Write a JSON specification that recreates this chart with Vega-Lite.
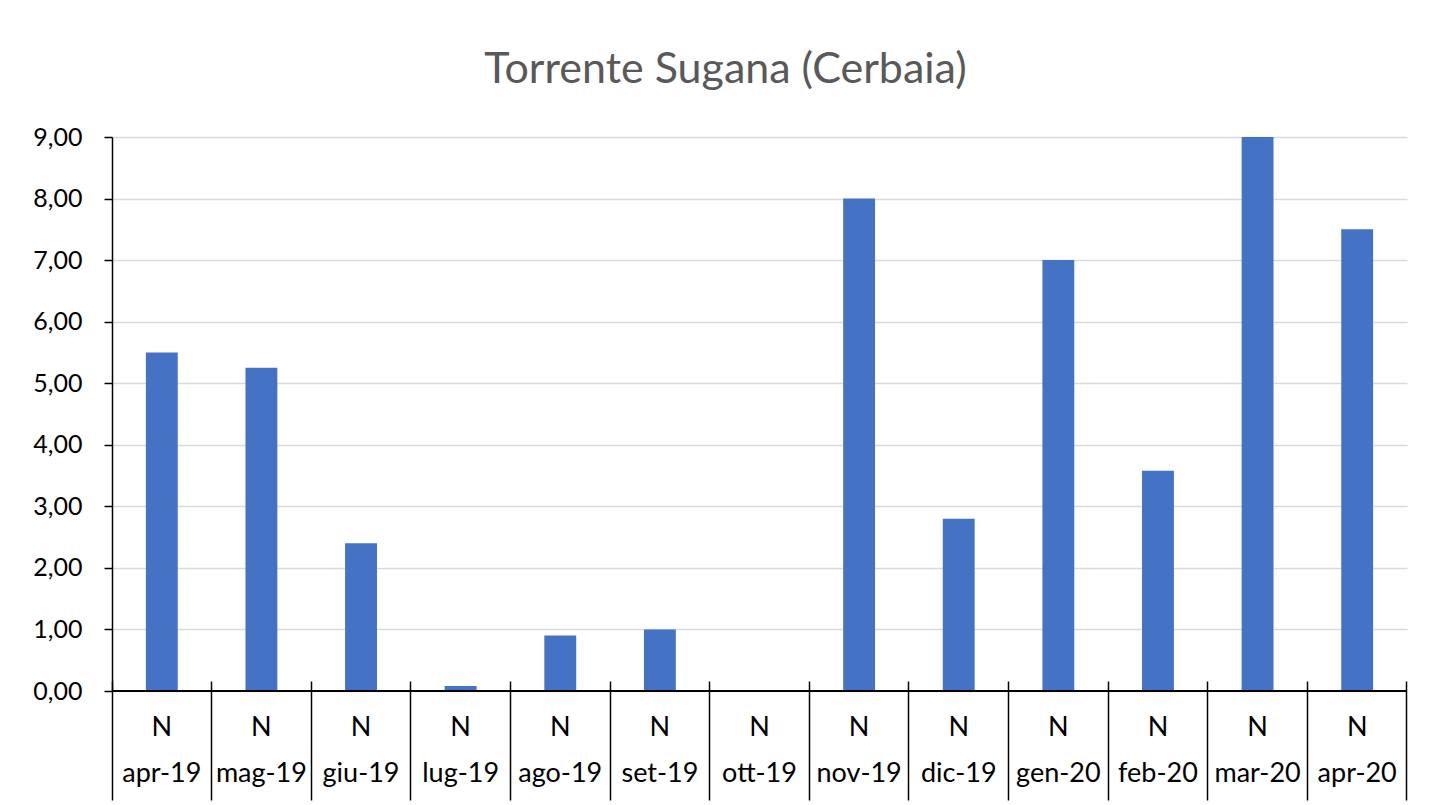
{
  "$schema": "https://vega.github.io/schema/vega-lite/v6.json",
  "width": 1295,
  "height": 554,
  "autosize": {"type": "none"},
  "padding": {"left": 112, "top": 137, "right": 29, "bottom": 114},
  "background": "white",
  "title": {
    "text": "Torrente Sugana (Cerbaia)",
    "font": "Lato",
    "fontSize": 43,
    "fontWeight": "normal",
    "color": "#595959",
    "anchor": "middle",
    "frame": "group",
    "dx": -34,
    "offset": 33
  },
  "data": {
    "values": [
      {"mese": "apr-19", "valore": 5.5},
      {"mese": "mag-19", "valore": 5.25},
      {"mese": "giu-19", "valore": 2.4},
      {"mese": "lug-19", "valore": 0.08},
      {"mese": "ago-19", "valore": 0.9},
      {"mese": "set-19", "valore": 1.0},
      {"mese": "ott-19", "valore": 0},
      {"mese": "nov-19", "valore": 8.0},
      {"mese": "dic-19", "valore": 2.8},
      {"mese": "gen-20", "valore": 7.0},
      {"mese": "feb-20", "valore": 3.58},
      {"mese": "mar-20", "valore": 9.0},
      {"mese": "apr-20", "valore": 7.5}
    ]
  },
  "config": {
    "view": {"stroke": null},
    "font": "Lato"
  },
  "layer": [
    {
      "mark": {"type": "bar", "color": "#4472C4", "width": {"band": 0.32}},
      "encoding": {
        "x": {
          "field": "mese",
          "type": "nominal",
          "sort": null,
          "title": null,
          "scale": {"paddingInner": 0, "paddingOuter": 0},
          "axis": {
            "domain": false,
            "offset": -10,
            "bandPosition": 1,
            "tickExtra": true,
            "tickSize": 119,
            "tickColor": "black",
            "tickWidth": 1.5,
            "labelAngle": 0,
            "labelExpr": "datum.label ? ['N', datum.label] : ''",
            "labelFont": "Lato",
            "labelFontSize": 27,
            "labelColor": "black",
            "labelLineHeight": 46,
            "labelBaseline": "middle",
            "labelPadding": -73
          }
        },
        "y": {
          "field": "valore",
          "type": "quantitative",
          "title": null,
          "scale": {"domain": [0, 9], "nice": false},
          "axis": {
            "values": [0, 1, 2, 3, 4, 5, 6, 7, 8, 9],
            "labelExpr": "replace(format(datum.value, '.2f'), '.', ',')",
            "labelFont": "Lato",
            "labelFontSize": 25,
            "labelColor": "black",
            "labelPadding": 22,
            "tickSize": 8,
            "tickColor": "black",
            "tickWidth": 1.5,
            "domainColor": "black",
            "domainWidth": 1.5,
            "grid": true,
            "gridColor": "#d9d9d9",
            "gridWidth": 1.5
          }
        }
      }
    },
    {
      "mark": {"type": "rule", "color": "black", "strokeWidth": 1.5},
      "encoding": {"y": {"datum": 0}}
    }
  ]
}
